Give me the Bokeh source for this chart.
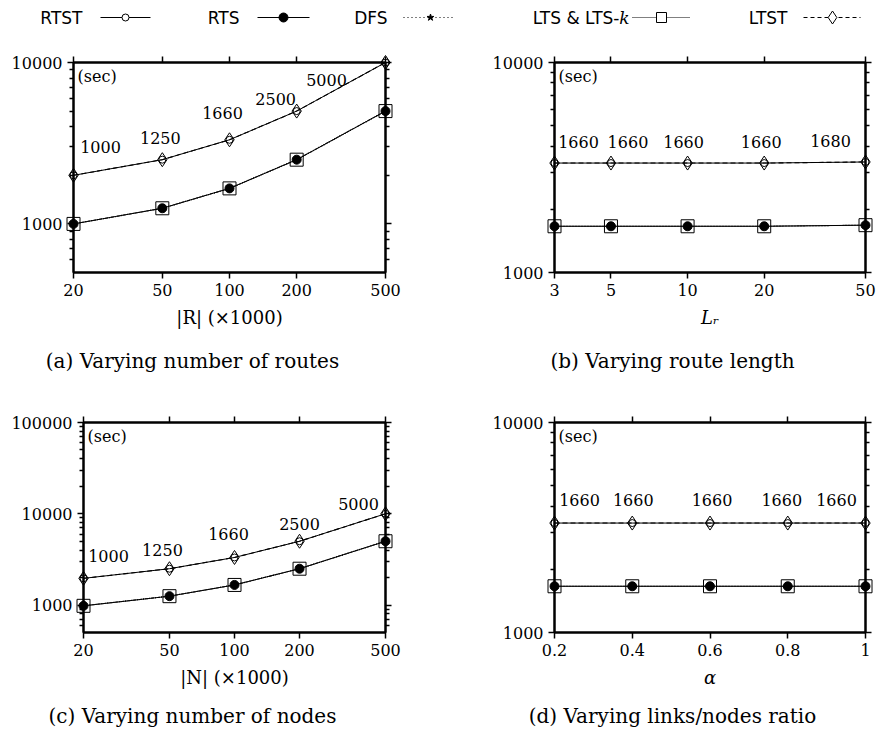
from bokeh.plotting import figure
from bokeh.models import Range1d, FixedTicker, LogAxis, LinearAxis, ColumnDataSource
from bokeh.layouts import column, row
from bokeh.core.properties import value
from bokeh.embed import file_html
from bokeh.resources import INLINE

# ---------------- data ----------------
legend_names = ["RTST", "RTS", "DFS", "LTS & LTS-", "LTST"]

a_x = [20, 50, 100, 200, 500]
a_rtst = [2000, 2500, 3320, 5000, 10000]
a_ltst = [2000, 2500, 3320, 5000, 10000]
a_rts = [1000, 1250, 1660, 2500, 5000]
a_dfs = [1000, 1250, 1660, 2500, 5000]
a_lts = [1000, 1250, 1660, 2500, 5000]
a_labels = ["1000", "1250", "1660", "2500", "5000"]

b_x = [3, 5, 10, 20, 50]
b_rtst = [3320, 3320, 3320, 3320, 3360]
b_ltst = [3320, 3320, 3320, 3320, 3360]
b_rts = [1660, 1660, 1660, 1660, 1680]
b_dfs = [1660, 1660, 1660, 1660, 1680]
b_lts = [1660, 1660, 1660, 1660, 1680]
b_labels = ["1660", "1660", "1660", "1660", "1680"]

c_x = [20, 50, 100, 200, 500]
c_rtst = [1960, 2500, 3320, 5000, 10000]
c_ltst = [1960, 2500, 3320, 5000, 10000]
c_rts = [980, 1250, 1660, 2500, 5000]
c_dfs = [980, 1250, 1660, 2500, 5000]
c_lts = [980, 1250, 1660, 2500, 5000]
c_labels = ["1000", "1250", "1660", "2500", "5000"]

d_x = [0.2, 0.4, 0.6, 0.8, 1.0]
d_rtst = [3320, 3320, 3320, 3320, 3320]
d_ltst = [3320, 3320, 3320, 3320, 3320]
d_rts = [1660, 1660, 1660, 1660, 1660]
d_dfs = [1660, 1660, 1660, 1660, 1660]
d_lts = [1660, 1660, 1660, 1660, 1660]
d_labels = ["1660", "1660", "1660", "1660", "1660"]

a_xticks = [20, 50, 100, 200, 500]
a_xtick_labels = ["20", "50", "100", "200", "500"]
b_xticks = [3, 5, 10, 20, 50]
b_xtick_labels = ["3", "5", "10", "20", "50"]
d_xticks = [0.2, 0.4, 0.6, 0.8, 1.0]
d_xtick_labels = ["0.2", "0.4", "0.6", "0.8", "1"]

a_yticks = [1000, 10000]
a_ytick_labels = ["1000", "10000"]
a_yminor = [600, 700, 800, 900, 2000, 3000, 4000, 5000, 6000, 7000, 8000, 9000]
b_yticks = [1000, 10000]
b_ytick_labels = ["1000", "10000"]
b_yminor = [2000, 3000, 4000, 5000, 6000, 7000, 8000, 9000]
c_yticks = [1000, 10000, 100000]
c_ytick_labels = ["1000", "10000", "100000"]
c_yminor = [600, 700, 800, 900, 2000, 3000, 4000, 5000, 6000, 7000, 8000, 9000,
            20000, 30000, 40000, 50000, 60000, 70000, 80000, 90000]

a_yrange = (500, 10000)
b_yrange = (1000, 10000)
c_yrange = (500, 100000)
d_yrange = (1000, 10000)

a_xlabel = "|R| (×1000)"
b_xlabel = "Lᵣ"
c_xlabel = "|N| (×1000)"
d_xlabel = "α"

captions_top = ["(a) Varying number of routes", "(b) Varying route length"]
captions_bottom = ["(c) Varying number of nodes", "(d) Varying links/nodes ratio"]

# ---------------- layout / style (pixels) ----------------
a_dx = [27, -2, -7, -21, -59]
a_dy = [-28, -22, -27, -12, 17]
b_dx = [24, 17, -4, -3, -35]
b_dy = [-21, -21, -21, -21, -21]
c_dx = [25, -7, -6, 0, -27]
c_dy = [-22, -19, -23, -17, -10]
d_dx = [25, 1, 2, -6, -29]
d_dy = [-23, -23, -23, -23, -23]

SERIF = "DejaVu Serif"
SANS = "DejaVu Sans"


def style_axis(ax):
    ax.axis_line_width = 2
    ax.axis_line_color = "black"
    ax.major_tick_out = 6
    ax.major_tick_in = 0
    ax.minor_tick_out = 4
    ax.minor_tick_in = 0
    ax.major_tick_line_width = 1.5
    ax.minor_tick_line_width = 1.5
    ax.major_label_text_font = SERIF
    ax.major_label_text_font_size = "16px"
    ax.major_label_text_color = "black"
    ax.major_label_standoff = 5


def make_panel(x, rtst, ltst, rts, dfs, lts, labels, dx, dy, x_type, xticks, xtick_labels,
               yticks, ytick_labels, yminor, yr, xlabel, xlabel_style,
               width, height, bl, br, bt, bb):
    p = figure(width=width, height=height, x_axis_type=x_type, y_axis_type="log",
               x_range=Range1d(xticks[0], xticks[-1]), y_range=Range1d(yr[0], yr[1]),
               output_backend="svg", toolbar_location=None,
               min_border_left=bl, min_border_right=br, min_border_top=bt, min_border_bottom=bb)
    p.grid.visible = False
    p.outline_line_color = "black"
    p.outline_line_width = 2

    xax = p.below[0]
    xax.ticker = FixedTicker(ticks=xticks, minor_ticks=[])
    xax.major_label_overrides = {t: l for t, l in zip(xticks, xtick_labels)}
    style_axis(xax)
    xax.axis_label = xlabel
    xax.axis_label_text_font = SERIF
    xax.axis_label_text_font_size = "18px"
    xax.axis_label_text_font_style = xlabel_style
    xax.axis_label_text_color = "black"
    xax.axis_label_standoff = 8

    yax = p.left[0]
    yax.ticker = FixedTicker(ticks=yticks, minor_ticks=yminor)
    yax.major_label_overrides = {t: l for t, l in zip(yticks, ytick_labels)}
    style_axis(yax)

    top = (LogAxis if x_type == "log" else LinearAxis)(ticker=FixedTicker(ticks=xticks, minor_ticks=[]))
    style_axis(top)
    top.major_label_text_color = None
    top.major_label_text_font_size = "1px"
    top.major_label_standoff = 0
    p.add_layout(top, "above")

    right = LogAxis(ticker=FixedTicker(ticks=yticks, minor_ticks=yminor))
    style_axis(right)
    right.major_label_text_color = None
    right.major_label_text_font_size = "1px"
    right.major_label_standoff = 0
    p.add_layout(right, "right")

    src = ColumnDataSource(dict(x=x, rtst=rtst, ltst=ltst, rts=rts, dfs=dfs, lts=lts,
                                lab=labels, dx=dx, dy=dy))
    p.line("x", "rtst", source=src, color="black", line_width=1)
    p.line("x", "rts", source=src, color="black", line_width=1)
    p.line("x", "ltst", source=src, color="black", line_width=1.1, line_dash="5 3")
    p.line("x", "lts", source=src, color="black", line_width=1.1, line_dash="1 1")
    p.line("x", "dfs", source=src, color="black", line_width=1.1, line_dash="1 2")

    marks = [
        p.scatter("x", "ltst", source=src, marker="diamond", size=14, line_color="black",
                  fill_color=None, line_width=1),
        p.scatter("x", "rtst", source=src, marker="circle", size=7, line_color="black",
                  fill_color=None, line_width=1),
        p.scatter("x", "lts", source=src, marker="square", size=13, line_color="black",
                  fill_color=None, line_width=1),
        p.scatter("x", "dfs", source=src, marker="star", size=6, line_color="black",
                  fill_color="black"),
        p.scatter("x", "rts", source=src, marker="circle", size=9, line_color="black",
                  fill_color="black"),
    ]
    for m in marks:
        m.level = "annotation"

    p.text("x", "rtst", text="lab", source=src, x_offset="dx", y_offset="dy",
           text_font=value(SERIF), text_font_size="16px", text_align="center",
           text_baseline="middle", text_color="black")

    p.text(x=[xticks[0]], y=[yr[1]], text=["(sec)"], x_offset=4, y_offset=4,
           text_font=value(SERIF), text_font_size="16px", text_align="left",
           text_baseline="top", text_color="black")
    return p


fa = make_panel(a_x, a_rtst, a_ltst, a_rts, a_dfs, a_lts, a_labels, a_dx, a_dy, "log",
                a_xticks, a_xtick_labels, a_yticks, a_ytick_labels, a_yminor, a_yrange, a_xlabel, "normal",
                405, 304, 73, 20, 26, 68)
fb = make_panel(b_x, b_rtst, b_ltst, b_rts, b_dfs, b_lts, b_labels, b_dx, b_dy, "log",
                b_xticks, b_xtick_labels, b_yticks, b_ytick_labels, b_yminor, b_yrange, b_xlabel, "italic",
                471, 304, 149, 11, 26, 68)
fc = make_panel(c_x, c_rtst, c_ltst, c_rts, c_dfs, c_lts, c_labels, c_dx, c_dy, "log",
                a_xticks, a_xtick_labels, c_yticks, c_ytick_labels, c_yminor, c_yrange, c_xlabel, "normal",
                405, 318, 83, 20, 40, 68)
fd = make_panel(d_x, d_rtst, d_ltst, d_rts, d_dfs, d_lts, d_labels, d_dx, d_dy, "linear",
                d_xticks, d_xtick_labels, b_yticks, b_ytick_labels, b_yminor, d_yrange, d_xlabel, "italic",
                471, 318, 149, 11, 40, 68)


def blank(width, height):
    p = figure(width=width, height=height, x_range=Range1d(0, width), y_range=Range1d(height, 0),
               x_axis_location=None, y_axis_location=None, output_backend="svg",
               toolbar_location=None, min_border=0, outline_line_color=None)
    p.grid.visible = False
    return p


# legend
leg = blank(876, 36)
leg_text_end = [82, 239, 387, 619, 787]
leg_line = [(100, 150), (257, 309), (403, 455), (632, 690), (803, 860)]
leg_mark = [125, 283, 430, 661, 832]
leg_dash = ["solid", "solid", "1 3", "1 1", "4 3"]
LY = 17
leg.text(x=leg_text_end, y=[LY] * 5, text=legend_names, text_align="right", text_baseline="middle",
         text_font=value(SANS), text_font_size="17px", text_color="black")
leg.text(x=[629], y=[LY], text=["k"], text_align="right", text_baseline="middle",
         text_font=value(SERIF), text_font_style="italic", text_font_size="17px", text_color="black")
for (x0, x1), dash in zip(leg_line, leg_dash):
    leg.segment(x0=[x0], x1=[x1], y0=[LY], y1=[LY], line_color="black", line_width=1, line_dash=dash)
leg.scatter(x=[leg_mark[0]], y=[LY], marker="circle", size=7, line_color="black", fill_color="white")
leg.scatter(x=[leg_mark[1]], y=[LY], marker="circle", size=9, line_color="black", fill_color="black")
leg.scatter(x=[leg_mark[2]], y=[LY], marker="star", size=7, line_color="black", fill_color="black")
leg.scatter(x=[leg_mark[3]], y=[LY], marker="square", size=10, line_color="black", fill_color="white")
leg.scatter(x=[leg_mark[4]], y=[LY], marker="diamond", size=13, line_color="black", fill_color="white")

cap1 = blank(876, 42)
cap1.text(x=[192, 672], y=[20, 20], text=captions_top, text_align="center", text_baseline="middle",
          text_font=value(SERIF), text_font_size="20px", text_color="black")
cap2 = blank(876, 31)
cap2.text(x=[192, 672], y=[15, 15], text=captions_bottom, text_align="center", text_baseline="middle",
          text_font=value(SERIF), text_font_size="20px", text_color="black")

layout = column(leg, row(fa, fb), cap1, row(fc, fd), cap2)

open("out.html", "w").write(file_html(layout, INLINE))
